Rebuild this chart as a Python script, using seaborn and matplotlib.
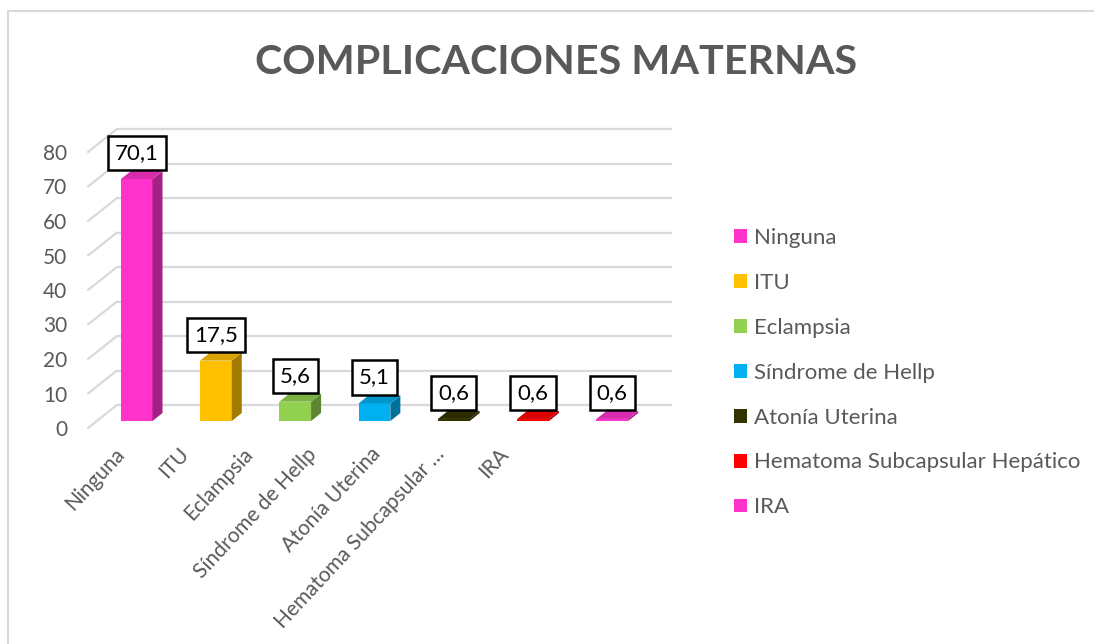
import numpy as np
import pandas as pd
import matplotlib
matplotlib.use("Agg")
import matplotlib.pyplot as plt
import matplotlib.transforms as mtransforms
from matplotlib.patches import Polygon, Patch
from matplotlib.lines import Line2D
from matplotlib.colors import to_rgb
import seaborn as sns

# ---------------- data ----------------
categories = ["Ninguna", "ITU", "Eclampsia", "Síndrome de Hellp", "Atonía Uterina",
              "Hematoma Subcapsular Hepático", "IRA"]
axis_labels = ["Ninguna", "ITU", "Eclampsia", "Síndrome de Hellp", "Atonía Uterina",
               "Hematoma Subcapsular …", "IRA"]
values = [70.1, 17.5, 5.6, 5.1, 0.6, 0.6, 0.6]
value_labels = ["70,1", "17,5", "5,6", "5,1", "0,6", "0,6", "0,6"]
colors = ["#FF33CC", "#FFC000", "#92D050", "#00B0F0", "#333300", "#FF0000", "#FF33CC"]
y_ticks = [0, 10, 20, 30, 40, 50, 60, 70, 80]
title = "COMPLICACIONES MATERNAS"

# ---------------- figure ----------------
W, H, DPI = 1094, 644, 100
sns.set_theme(style="white")
plt.rcParams['font.family'] = ['Lato', 'DejaVu Sans']
TXT = "#595959"
GRID = "#D9D9D9"

fig = plt.figure(figsize=(W / DPI, H / DPI), dpi=DPI)
fig.patch.set_facecolor("white")


def px_rect(left, top, right, bottom):
    return [left / W, 1 - bottom / H, (right - left) / W, (bottom - top) / H]


def shift(dx, dy):
    return mtransforms.ScaledTranslation(dx / DPI, dy / DPI, fig.dpi_scale_trans)


ident = mtransforms.IdentityTransform()

# front plane axes
ax = fig.add_axes(px_rect(88, 152, 643, 428))
df = pd.DataFrame({"cat": categories, "val": values})
sns.barplot(data=df, x="cat", y="val", hue="cat", palette=colors, width=0.4,
            saturation=1, legend=False, ax=ax, zorder=3, edgecolor="none", linewidth=0)
ax.set_xlim(-0.5, 6.5)
ax.set_ylim(0, 80)
for s in ax.spines.values():
    s.set_visible(False)
ax.patch.set_visible(False)
ax.set_xlabel("")
ax.set_ylabel("")
ax.set_xticks([])
ax.set_yticks(y_ticks)
ax.set_yticklabels([str(t) for t in y_ticks])
ax.tick_params(axis="y", length=0, pad=15, labelsize=15, labelcolor=TXT)
ax.grid(False)

# back wall gridlines
BX, BY = 29, 23
ax.hlines(y_ticks, -0.5, 6.5, transform=ax.transData + shift(BX, BY),
          color=GRID, lw=1.6, clip_on=False, zorder=0)
# side-wall diagonals
for t in y_ticks:
    x0, y0 = ax.transData.transform((-0.5, t))
    ax.add_artist(Line2D([x0, x0 + BX], [y0, y0 + BY], transform=ident,
                         color=GRID, lw=1.6, clip_on=False, zorder=0))

# bars: shift front face and add depth faces
FX, FY = 9, 7
DX, DY = 10, 8
for patch, c in zip(ax.patches, colors):
    patch.set_transform(ax.transData + shift(FX, FY))
    xa, ya = ax.transData.transform((patch.get_x(), 0))
    xb, yb = ax.transData.transform((patch.get_x() + patch.get_width(), patch.get_height()))
    xa += FX; xb += FX; ya += FY; yb += FY
    rgb = np.array(to_rgb(c))
    side = Polygon([(xb, ya), (xb + DX, ya + DY), (xb + DX, yb + DY), (xb, yb)],
                   closed=True, transform=ident, facecolor=rgb * 0.64, edgecolor="none",
                   clip_on=False, zorder=3)
    top = Polygon([(xa, yb), (xb, yb), (xb + DX, yb + DY), (xa + DX, yb + DY)],
                  closed=True, transform=ident, facecolor=rgb * 0.85, edgecolor="none",
                  clip_on=False, zorder=3)
    ax.add_artist(side)
    ax.add_artist(top)

# data labels
for i, (v, lab) in enumerate(zip(values, value_labels)):
    ax.text(i, v, lab, transform=ax.transData + shift(FX, FY + 26),
            ha="center", va="center", fontsize=16, color="black", zorder=6,
            clip_on=False,
            bbox=dict(boxstyle="square,pad=0.32", fc="white", ec="black", lw=1.8))

# category labels axis
ax2 = fig.add_axes(px_rect(82, 443, 530, 444))
ax2.set_xlim(-0.5, 6.5)
ax2.set_xticks(range(len(axis_labels)))
ax2.set_xticklabels(axis_labels)
ax2.set_yticks([])
for s in ax2.spines.values():
    s.set_visible(False)
ax2.patch.set_visible(False)
ax2.tick_params(axis="x", length=0, pad=0, labelsize=15, labelcolor=TXT)
plt.setp(ax2.get_xticklabels(), rotation=47, ha="right", rotation_mode="anchor")

# legend
handles = [Patch(facecolor=c, edgecolor="none") for c in colors]
fig.legend(handles, categories, loc="upper left",
           bbox_to_anchor=(734 / W, 1 - 228 / H), frameon=False,
           fontsize=16, labelcolor=TXT, handlelength=0.58, handleheight=0.58,
           handletextpad=0.3, labelspacing=1.12, borderpad=0, borderaxespad=0)

# title
fig.text(556 / W, 1 - 63 / H, title, ha="center", va="center", fontsize=29.7,
         fontweight="bold", color=TXT)

# chart border (left and top edges)
fig.add_artist(Line2D([8 / W, 8 / W, 1.0], [0.0, 1 - 11 / H, 1 - 11 / H],
                      transform=fig.transFigure, color=GRID, lw=1.5))

fig.savefig("out.png", dpi=DPI)
